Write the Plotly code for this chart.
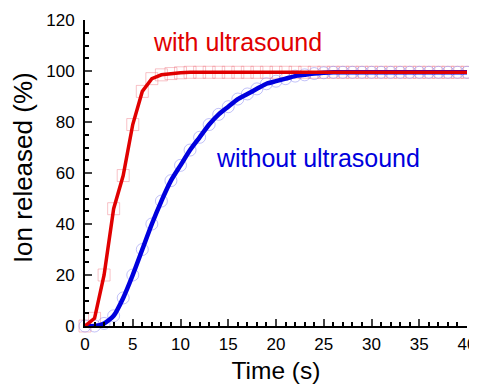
import plotly.graph_objects as go

time_s = list(range(0, 41))
with_us = [0, 3, 20, 46, 59, 79, 92, 97, 98.5, 99, 99.3] + [99.5] * 30
without_us = [0, 0, 1, 4, 11, 20, 30, 40, 49, 57, 63, 69, 74, 79, 83, 86, 89, 91, 93, 95,
              96, 97, 98, 98.5, 99, 99.3] + [99.5] * 15

x_ticks = [0, 5, 10, 15, 20, 25, 30, 35, 40]
y_ticks = [0, 20, 40, 60, 80, 100, 120]

font = "Liberation Sans, Arial, sans-serif"

fig = go.Figure()
fig.add_trace(go.Scatter(x=time_s, y=with_us, mode="markers",
                         marker=dict(symbol="square-open", size=12, color="rgba(240,120,130,0.45)",
                                     line=dict(width=1)),
                         cliponaxis=False, showlegend=False))
fig.add_trace(go.Scatter(x=time_s, y=without_us, mode="markers",
                         marker=dict(symbol="circle-open", size=12, color="rgba(120,120,240,0.45)",
                                     line=dict(width=1)),
                         cliponaxis=False, showlegend=False))
fig.add_trace(go.Scatter(x=time_s, y=without_us, mode="lines",
                         line=dict(color="#0000dd", width=4.5, shape="spline", smoothing=0.6),
                         cliponaxis=False, showlegend=False))
fig.add_trace(go.Scatter(x=time_s, y=with_us, mode="lines",
                         line=dict(color="#e00000", width=3.5),
                         cliponaxis=False, showlegend=False))

fig.add_annotation(x=16.0, y=111.4, text="with ultrasound", showarrow=False,
                   font=dict(family=font, size=25, color="#e00000"))
fig.add_annotation(x=24.4, y=65.9, text="without ultrasound", showarrow=False,
                   font=dict(family=font, size=25, color="#0000dd"))
# y-axis title
fig.add_annotation(xref="paper", yref="paper", x=0, y=0.516, xshift=-62,
                   xanchor="center", yanchor="middle",
                   text="Ion released (%)", textangle=-90, showarrow=False,
                   font=dict(family=font, size=26, color="black"))

# page body has an 8px margin, so the figure is sized/offset to fit the 477x392 window
fig.update_layout(
    width=469, height=384,
    margin=dict(l=77, r=10, t=12, b=66),
    paper_bgcolor="white", plot_bgcolor="white",
    font=dict(family=font, size=17, color="black"),
)
fig.update_xaxes(range=[0, 40], tickvals=x_ticks, ticks="inside", ticklen=7, tickwidth=1.5,
                 showline=True, linecolor="black", linewidth=2, showgrid=False, zeroline=False,
                 minor=dict(dtick=1, ticks="inside", ticklen=4, tickwidth=1.5, tickcolor="black"),
                 automargin=False, ticklabelstandoff=2, ticklabeloverflow="allow",
                 title=dict(text="Time (s)", font=dict(size=24.5), standoff=8), tickfont=dict(size=17))
fig.update_yaxes(range=[0, 120], tickvals=y_ticks, ticks="inside", ticklen=7, tickwidth=1.5,
                 showline=True, linecolor="black", linewidth=2, showgrid=False, zeroline=False,
                 minor=dict(dtick=5, ticks="inside", ticklen=4, tickwidth=1.5, tickcolor="black"),
                 automargin=False, ticklabelstandoff=5, ticklabeloverflow="allow",
                 tickfont=dict(size=17))

fig.write_html("out.html")
